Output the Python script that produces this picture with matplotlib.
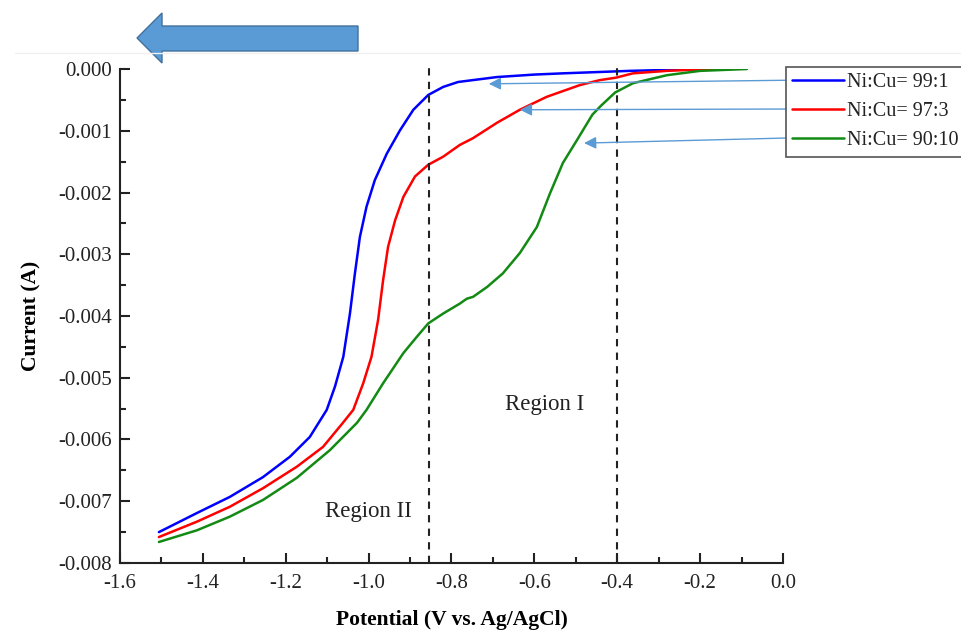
import numpy as np
import matplotlib
matplotlib.use("Agg")
import matplotlib.pyplot as plt
from matplotlib.patches import Polygon
from matplotlib.lines import Line2D

plt.rcParams['font.family'] = ['Liberation Serif', 'DejaVu Serif']
plt.rcParams['axes.unicode_minus'] = False

# potential (V) and current (mA, converted to A below)
pot_99 = [-1.506, -1.414, -1.335, -1.255, -1.19, -1.142, -1.101, -1.081, -1.061, -1.045,
          -1.033, -1.021, -1.005, -0.985, -0.956, -0.924, -0.892, -0.856, -0.82, -0.784,
          -0.69, -0.60, -0.531, -0.45, -0.37, -0.25, -0.15]
cur_99 = [-7.50, -7.19, -6.93, -6.61, -6.28, -5.96, -5.52, -5.14, -4.66, -3.96,
          -3.31, -2.72, -2.23, -1.80, -1.37, -0.99, -0.66, -0.42, -0.29, -0.21,
          -0.13, -0.09, -0.07, -0.05, -0.03, -0.01, 0.0]

pot_97 = [-1.506, -1.414, -1.335, -1.255, -1.173, -1.11, -1.062, -1.037, -1.013, -0.993,
          -0.977, -0.965, -0.953, -0.936, -0.916, -0.888, -0.856, -0.82, -0.78, -0.748,
          -0.69, -0.635, -0.57, -0.49, -0.442, -0.403, -0.362, -0.28, -0.176, -0.13]
cur_97 = [-7.58, -7.33, -7.09, -6.79, -6.44, -6.12, -5.73, -5.52, -5.09, -4.66,
          -4.06, -3.42, -2.88, -2.45, -2.07, -1.74, -1.55, -1.42, -1.23, -1.12,
          -0.87, -0.66, -0.45, -0.26, -0.18, -0.14, -0.07, -0.03, 0.0, 0.0]

pot_90 = [-1.506, -1.414, -1.335, -1.255, -1.173, -1.093, -1.028, -1.005, -0.965, -0.916,
          -0.884, -0.856, -0.82, -0.78, -0.763, -0.748, -0.714, -0.676, -0.635, -0.594,
          -0.562, -0.531, -0.497, -0.46, -0.44, -0.405, -0.362, -0.28, -0.2, -0.087]
cur_90 = [-7.66, -7.47, -7.25, -6.98, -6.62, -6.17, -5.73, -5.52, -5.09, -4.60,
          -4.34, -4.12, -3.96, -3.80, -3.72, -3.69, -3.53, -3.31, -2.98, -2.56,
          -2.01, -1.52, -1.15, -0.74, -0.60, -0.38, -0.23, -0.10, -0.03, 0.0]

labels = ['Ni:Cu= 99:1', 'Ni:Cu= 97:3', 'Ni:Cu= 90:10']
colors = ['#0000ff', '#ff0000', '#138a13']
region_lines = [-0.855, -0.4]

# arrow tips (data) for the legend pointers, tails in figure fraction
tip_x = [-0.71, -0.635, -0.48]
tip_y = [-0.00024, -0.00066, -0.0012]
tail_y = [0.873, 0.8275, 0.7816]


def fmt_x(v, pos):
    return '%.1f' % (0.0 if abs(v) < 1e-9 else v)


def fmt_y(v, pos):
    return '%.3f' % (0.0 if abs(v) < 1e-12 else v)


fig = plt.figure(figsize=(9.62, 6.32), dpi=100)
ax = fig.add_axes([0.1247, 0.1092, 0.6892, 0.7816])

series = [(pot_99, cur_99), (pot_97, cur_97), (pot_90, cur_90)]
for (p, c), lab, col in zip(series, labels, colors):
    ax.plot(p, np.array(c) * 1e-3, color=col, lw=1.8, label=lab,
            solid_joinstyle='round', solid_capstyle='round')

for xv in region_lines:
    ax.axvline(xv, color='#222222', ls=(0, (3.5, 3)), lw=1.5, ymax=1.01, clip_on=False)

ax.set_xlim(-1.6, 0.0)
ax.set_ylim(-0.008, 0.0)
ax.set_xticks(np.arange(-1.6, 0.01, 0.2))
ax.set_xticks(np.arange(-1.6, 0.01, 0.1), minor=True)
ax.set_yticks(np.arange(-0.008, 0.0001, 0.001))
ax.set_yticks(np.arange(-0.008, 0.0001, 0.0005), minor=True)
ax.xaxis.set_major_formatter(matplotlib.ticker.FuncFormatter(fmt_x))
ax.yaxis.set_major_formatter(matplotlib.ticker.FuncFormatter(fmt_y))
ax.tick_params(which='both', direction='in', width=1.5, labelsize=15, colors='#222222')
ax.tick_params(which='major', length=7)
ax.tick_params(which='minor', length=4.5)
ax.tick_params(axis='x', pad=8)
ax.tick_params(axis='y', pad=6)
for s in ['top', 'right']:
    ax.spines[s].set_visible(False)
for s in ['left', 'bottom']:
    ax.spines[s].set_linewidth(1.5)
    ax.spines[s].set_color('#222222')

ax.set_xlabel('Potential (V vs. Ag/AgCl)', fontsize=15.5, fontweight='bold', labelpad=12)
ax.set_ylabel('Current (A)', fontsize=15.5, fontweight='bold', labelpad=12)

ax.text(-1.0, -0.00717, 'Region II', fontsize=16.5, ha='center', va='center', color='#222222')
ax.text(-0.574, -0.00544, 'Region I', fontsize=16.5, ha='center', va='center', color='#222222')

leg = ax.legend(loc='upper left', bbox_to_anchor=(786 / 962, 1 - 67 / 632),
                bbox_transform=fig.transFigure, borderaxespad=0, fontsize=14.5,
                handlelength=2.6, handletextpad=0.12, borderpad=0.3,
                labelspacing=0.5, fancybox=False, framealpha=1, edgecolor='#555555')
leg.get_frame().set_linewidth(1.2)
for t in leg.get_texts():
    t.set_color('#222222')

for tx, ty, tl in zip(tip_x, tip_y, tail_y):
    ax.annotate('', xy=(tx, ty), xytext=(0.817, tl), textcoords='figure fraction',
                arrowprops=dict(arrowstyle='-|>', color='#5b9bd5', lw=1.0,
                                mutation_scale=18, shrinkA=0, shrinkB=0),
                annotation_clip=False)

# faint edge line and the big arrow above the plot
fig.add_artist(Line2D([15 / 962, 1], [1 - 53 / 632] * 2, color='#f0f0f0', lw=1))
arrow_px = [(137, 38), (162, 13), (162, 26), (358, 26), (358, 51), (162, 51), (162, 63)]
arrow_pts = [(x / 962, 1 - y / 632) for x, y in arrow_px]
fig.add_artist(Polygon(arrow_pts, closed=True, facecolor='#5b9bd5',
                       edgecolor='#41719c', lw=1, transform=fig.transFigure))

fig.savefig('out.png', dpi=100)
